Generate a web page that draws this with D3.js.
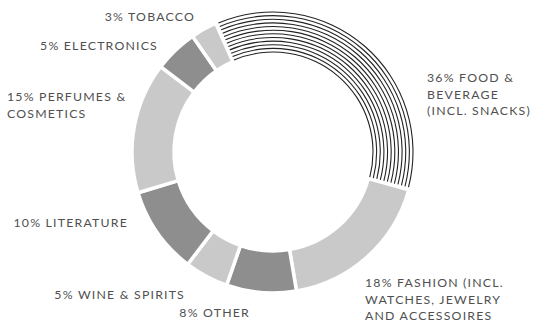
<!DOCTYPE html>
<html>
<head>
<meta charset="utf-8">
<script src="https://cdn.jsdelivr.net/npm/d3@7"></script>
<style>
  body { margin: 0; background: #fff; }
  text { font-family: "Lato", "DejaVu Sans", sans-serif; font-size: 12.3px; fill: #505050; letter-spacing: 1.2px; }
</style>
</head>
<body>
<script>
// data, clockwise starting with food
const categories = ['FOOD & BEVERAGE (INCL. SNACKS)', 'FASHION (INCL. WATCHES, JEWELRY AND ACCESSOIRES',
  'OTHER', 'WINE & SPIRITS', 'LITERATURE', 'PERFUMES & COSMETICS', 'ELECTRONICS', 'TOBACCO'];
const shares = [36, 18, 8, 5, 10, 15, 5, 3];
const labelLines = [
  ['36% FOOD &', 'BEVERAGE', '(INCL. SNACKS)'],
  ['18% FASHION (INCL.', 'WATCHES, JEWELRY', 'AND ACCESSOIRES'],
  ['8% OTHER'],
  ['5% WINE & SPIRITS'],
  ['10% LITERATURE'],
  ['15% PERFUMES &', 'COSMETICS'],
  ['5% ELECTRONICS'],
  ['3% TOBACCO']
];

const width = 537, height = 330;
const cx = 273, cy = 152, rOuter = 141, rInner = 99;

// label placement (x, y of first line, anchor)
const labelPos = [
  [427, 82, 'start'],
  [365, 287, 'start'],
  [250, 317, 'end'],
  [185, 299, 'end'],
  [128, 227, 'end'],
  [7, 101, 'start'],
  [158, 50, 'end'],
  [195, 21, 'end']
];

const fills = ['food', '#c9c9c9', '#8e8e8e', '#c9c9c9', '#8e8e8e', '#c9c9c9', '#8e8e8e', '#c9c9c9'];

const svg = d3.select('body').append('svg')
  .attr('width', width)
  .attr('height', height);

const start = -24 * Math.PI / 180;
const pie = d3.pie().sort(null).value(d => d)
  .startAngle(start).endAngle(start + 2 * Math.PI);
const arcs = pie(shares);

const arc = d3.arc().innerRadius(rInner).outerRadius(rOuter);
const g = svg.append('g').attr('transform', `translate(${cx},${cy})`);

g.selectAll('path.seg')
  .data(arcs.filter((d, i) => fills[i] !== 'food'))
  .join('path')
  .attr('class', 'seg')
  .attr('d', arc)
  .attr('fill', d => fills[d.index])
  .attr('stroke', '#fff')
  .attr('stroke-width', 3.5);

// food slice: concentric thin arcs
const food = arcs[0];
const pad = 1.8 / rInner;
const nLines = 12;
const radii = d3.range(nLines).map(k => rInner + 1 + k * (rOuter - rInner - 2) / (nLines - 1));
g.selectAll('path.stripe')
  .data(radii)
  .join('path')
  .attr('class', 'stripe')
  .attr('d', r => d3.arc().innerRadius(r - 0.55).outerRadius(r + 0.55)
    .startAngle(food.startAngle + pad).endAngle(food.endAngle - pad)())
  .attr('fill', '#222');

// labels
labelLines.forEach((lines, i) => {
  const [x, y, anchor] = labelPos[i];
  const t = svg.append('text')
    .attr('x', x).attr('y', y)
    .attr('text-anchor', anchor);
  lines.forEach((ln, j) => {
    t.append('tspan').attr('x', x).attr('dy', j === 0 ? 0 : 16.5).text(ln);
  });
});
</script>
</body>
</html>
